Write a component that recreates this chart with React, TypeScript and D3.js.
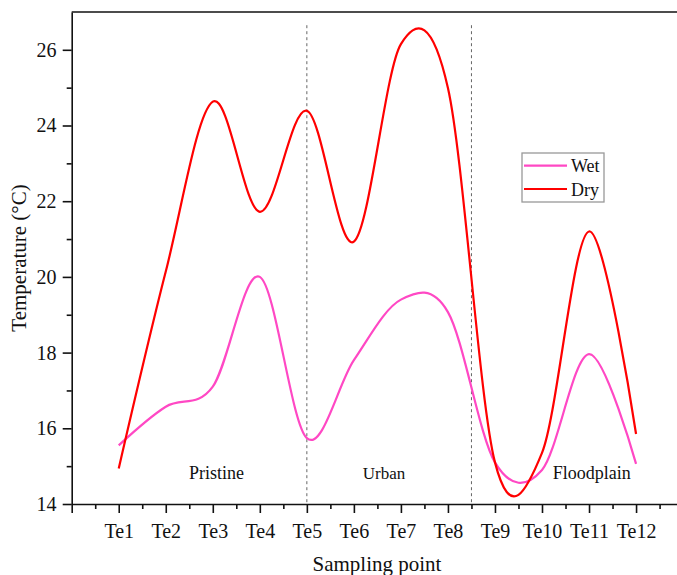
import * as d3 from "d3";
import { useEffect, useRef } from "react";

const categories = ["Te1", "Te2", "Te3", "Te4", "Te5", "Te6", "Te7", "Te8", "Te9", "Te10", "Te11", "Te12"];
const wet = [15.55, 16.57, 17.1, 20.0, 15.74, 17.8, 19.4, 19.07, 15.1, 14.9, 17.96, 15.06];
const dry = [14.94, 20.14, 24.63, 21.72, 24.39, 20.93, 26.15, 24.99, 15.1, 15.35, 21.2, 15.85];
const yTicks = [14, 16, 18, 20, 22, 24, 26];
const regions = [
    { name: "Pristine", at: 3.08, size: 18 },
    { name: "Urban", at: 6.64, size: 17 },
    { name: "Floodplain", at: 11.06, size: 18 },
];
const dividers = [5, 8.5];
const series = [
    { name: "Wet", values: wet, color: "#ff48c4" },
    { name: "Dry", values: dry, color: "#ff0000" },
];

const font = "'Liberation Serif', 'Times New Roman', serif";

export default function App() {
    const axisBottomRef = useRef(null);
    const minorBottomRef = useRef(null);
    const axisLeftRef = useRef(null);
    const minorLeftRef = useRef(null);

    const W = 677;
    const H = 575;
    const x = d3.scaleLinear().domain([0, 13]).range([71.7, 71.7 + 13 * 47.03]);
    const y = d3.scaleLinear().domain([14, 27]).range([504, 504 - 13 * 37.85]);

    const line = d3
        .line<number>()
        .x((_, i) => x(i + 1))
        .y((d) => y(d))
        .curve(d3.curveCardinal.tension(0));

    useEffect(() => {
        const style = (g) => {
            g.selectAll("path, line").attr("stroke", "#111").attr("stroke-width", 1.6);
            g.selectAll("text").attr("fill", "#111").style("font-family", font).style("font-size", "20px");
        };
        if (axisBottomRef.current) {
            const g = d3.select(axisBottomRef.current);
            g.call(
                d3.axisBottom(x)
                    .tickValues(d3.range(0, 14))
                    .tickSize(9)
                    .tickSizeOuter(0)
                    .tickPadding(10.5)
                    .tickFormat((d) => categories[Number(d) - 1] ?? "")
            );
            style(g);
        }
        if (minorBottomRef.current) {
            const g = d3.select(minorBottomRef.current);
            g.call(d3.axisBottom(x).tickValues(d3.range(0.5, 13, 1)).tickSize(5).tickSizeOuter(0).tickFormat(() => ""));
            style(g);
            g.select(".domain").remove();
        }
        if (axisLeftRef.current) {
            const g = d3.select(axisLeftRef.current);
            g.call(d3.axisLeft(y).tickValues(yTicks).tickSize(9).tickSizeOuter(0).tickPadding(6.3).tickFormat(d3.format("d")));
            style(g);
        }
        if (minorLeftRef.current) {
            const g = d3.select(minorLeftRef.current);
            g.call(d3.axisLeft(y).tickValues(d3.range(15, 27, 2)).tickSize(5).tickSizeOuter(0).tickFormat(() => ""));
            style(g);
            g.select(".domain").remove();
        }
    }, []);

    return (
        <svg width={W} height={H} style={{ position: "absolute", left: 0, top: 0 }}>
            <rect width={W} height={H} fill="#fff" />
            {dividers.map((d) => (
                <line
                    key={d}
                    x1={x(d)}
                    x2={x(d)}
                    y1={y(26.65)}
                    y2={y(14)}
                    stroke="#666"
                    strokeWidth={1}
                    strokeDasharray="3,3"
                />
            ))}
            {regions.map((r) => (
                <text
                    key={r.name}
                    x={x(r.at)}
                    y={479}
                    textAnchor="middle"
                    fontFamily={font}
                    fontSize={r.size}
                    fill="#111"
                >
                    {r.name}
                </text>
            ))}
            {series.map((s) => (
                <path key={s.name} d={line(s.values) ?? ""} fill="none" stroke={s.color} strokeWidth={2.2} />
            ))}
            <line x1={x(0)} x2={x(13)} y1={y(27)} y2={y(27)} stroke="#111" strokeWidth={1.6} />
            <g ref={minorBottomRef} transform={`translate(0, ${y(14)})`} />
            <g ref={axisBottomRef} transform={`translate(0, ${y(14)})`} />
            <g ref={minorLeftRef} transform={`translate(${x(0)}, 0)`} />
            <g ref={axisLeftRef} transform={`translate(${x(0)}, 0)`} />
            <text
                transform={`translate(26, ${y(20.5)}) rotate(-90)`}
                textAnchor="middle"
                fontFamily={font}
                fontSize={21}
                fill="#111"
            >
                Temperature (°C)
            </text>
            <text x={377} y={571} textAnchor="middle" fontFamily={font} fontSize={21} fill="#111">
                Sampling point
            </text>
            <g transform="translate(522, 153)">
                <rect width={82} height={49} fill="#fff" stroke="#999" strokeWidth={1.3} />
                {series.map((s, i) => (
                    <g key={s.name} transform={`translate(0, ${12.7 + i * 23.3})`}>
                        <line x1={2} x2={45} stroke={s.color} strokeWidth={2.2} />
                        <text x={49} y={6.5} fontFamily={font} fontSize={18} fill="#111">
                            {s.name}
                        </text>
                    </g>
                ))}
            </g>
        </svg>
    );
}
